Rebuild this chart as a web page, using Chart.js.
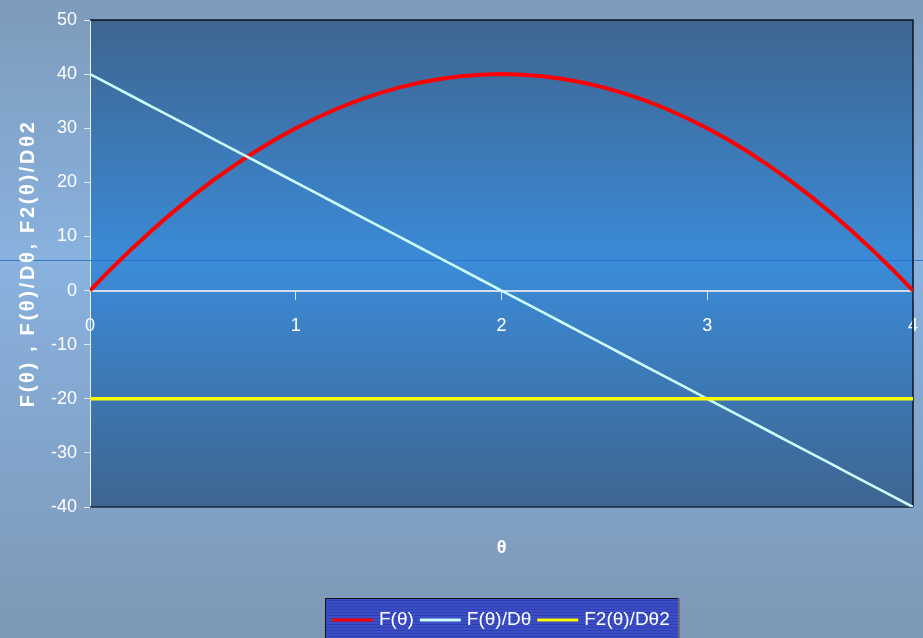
<!DOCTYPE html>
<html>
<head>
<meta charset="utf-8">
<script src="https://cdn.jsdelivr.net/npm/chart.js@4/dist/chart.umd.min.js"></script>
<style>
  html, body { margin: 0; padding: 0; background: #7f9dbd; }
  #wrap { width: 923px; height: 638px; position: relative; }
  canvas { display: block; }
</style>
</head>
<body>
<div id="wrap"><canvas id="c" width="923" height="638"></canvas></div>
<script>
// θ sample points
const thetaValues = [
  0.0, 0.1, 0.2, 0.3, 0.4, 0.5, 0.6, 0.7, 0.8, 0.9,
  1.0, 1.1, 1.2, 1.3, 1.4, 1.5, 1.6, 1.7, 1.8, 1.9,
  2.0, 2.1, 2.2, 2.3, 2.4, 2.5, 2.6, 2.7, 2.8, 2.9,
  3.0, 3.1, 3.2, 3.3, 3.4, 3.5, 3.6, 3.7, 3.8, 3.9, 4.0
];
// F(θ)
const fValues = [
  0, 3.9, 7.6, 11.1, 14.4, 17.5, 20.4, 23.1, 25.6, 27.9,
  30, 31.9, 33.6, 35.1, 36.4, 37.5, 38.4, 39.1, 39.6, 39.9,
  40, 39.9, 39.6, 39.1, 38.4, 37.5, 36.4, 35.1, 33.6, 31.9,
  30, 27.9, 25.6, 23.1, 20.4, 17.5, 14.4, 11.1, 7.6, 3.9, 0
];
// F(θ)/Dθ
const dfValues = [
  40, 38, 36, 34, 32, 30, 28, 26, 24, 22,
  20, 18, 16, 14, 12, 10, 8, 6, 4, 2,
  0, -2, -4, -6, -8, -10, -12, -14, -16, -18,
  -20, -22, -24, -26, -28, -30, -32, -34, -36, -38, -40
];
// F2(θ)/Dθ2
const d2fValues = [
  -20, -20, -20, -20, -20, -20, -20, -20, -20, -20,
  -20, -20, -20, -20, -20, -20, -20, -20, -20, -20,
  -20, -20, -20, -20, -20, -20, -20, -20, -20, -20,
  -20, -20, -20, -20, -20, -20, -20, -20, -20, -20, -20
];
const seriesLabels = ['F(θ)', 'F(θ)/Dθ', 'F2(θ)/Dθ2'];
const seriesColors = ['#ff0000', '#ccffff', '#ffff00'];
const seriesWidths = [4, 2.6, 3.5];
const xTitleText = 'θ';
const yTitleText = 'F(θ) , F(θ)/Dθ, F2(θ)/Dθ2';

const FONT = "'Liberation Sans', Arial, sans-serif";

function toPoints(values) {
  return thetaValues.map((t, i) => ({ x: t, y: values[i] }));
}

const seriesValues = [fValues, dfValues, d2fValues];
const datasets = seriesValues.map((vals, i) => ({
  label: seriesLabels[i],
  data: toPoints(vals),
  borderColor: seriesColors[i],
  backgroundColor: seriesColors[i],
  borderWidth: seriesWidths[i],
  pointRadius: 0,
  tension: 0,
  fill: false,
  order: 2 - i
}));

// Page and plot-area shading, frame, titles and legend
const backdrop = {
  id: 'backdrop',
  beforeDraw(chart) {
    const { ctx, width, height, chartArea: a } = chart;
    ctx.save();
    const g = ctx.createLinearGradient(0, 0, 0, height);
    g.addColorStop(0, '#7d9bbb');
    g.addColorStop(0.41, '#89b2df');
    g.addColorStop(0.8, '#80a0c4');
    g.addColorStop(1, '#7d98b4');
    ctx.fillStyle = g;
    ctx.fillRect(0, 0, width, height);

    const p = ctx.createLinearGradient(0, a.top, 0, a.bottom);
    p.addColorStop(0, '#3e6590');
    p.addColorStop(0.5, '#3b8bd8');
    p.addColorStop(1, '#3e6590');
    ctx.fillStyle = p;
    ctx.fillRect(a.left, a.top, a.right - a.left, a.bottom - a.top);
    ctx.restore();
  },
  beforeDatasetsDraw(chart) {
    const { ctx, width, chartArea: a } = chart;
    ctx.save();
    // thin band line across the page
    ctx.strokeStyle = 'rgba(40,110,205,0.85)';
    ctx.lineWidth = 1;
    ctx.beginPath();
    ctx.moveTo(0, 260.5);
    ctx.lineTo(width, 260.5);
    ctx.stroke();
    // frame of the plot area
    ctx.strokeStyle = '#0d1520';
    ctx.lineWidth = 1.5;
    ctx.beginPath();
    ctx.moveTo(a.left, a.top);
    ctx.lineTo(a.right, a.top);
    ctx.lineTo(a.right, a.bottom);
    ctx.stroke();
    ctx.strokeStyle = '#1d2b3c';
    ctx.beginPath();
    ctx.moveTo(a.left, a.bottom);
    ctx.lineTo(a.right, a.bottom);
    ctx.stroke();

    // y-axis title, letter-spaced to span 285px, rotated
    ctx.fillStyle = '#ffffff';
    ctx.font = 'bold 20px ' + FONT;
    ctx.letterSpacing = '0px';
    const natural = ctx.measureText(yTitleText).width;
    const chars = Array.from(yTitleText).length;
    const spacing = Math.max(0, (285 - natural) / (chars - 1));
    ctx.letterSpacing = spacing.toFixed(2) + 'px';
    ctx.textAlign = 'center';
    ctx.textBaseline = 'middle';
    ctx.translate(28, 262 + spacing / 2);
    ctx.rotate(-Math.PI / 2);
    ctx.fillText(yTitleText, 0, 0);
    ctx.restore();
  },
  afterDraw(chart) {
    const { ctx, chartArea: a } = chart;
    ctx.save();
    // x-axis title
    ctx.fillStyle = '#ffffff';
    ctx.font = 'bold 18px ' + FONT;
    ctx.textAlign = 'center';
    ctx.textBaseline = 'middle';
    ctx.fillText(xTitleText, (a.left + a.right) / 2, 548);

    // legend box
    const lx = 325, ly = 598, lw = 355, lh = 45;
    ctx.fillStyle = '#3c4ec6';
    ctx.fillRect(lx, ly, lw, lh);
    ctx.fillStyle = '#2f40b2';
    for (let y = ly + 2; y < ly + lh; y += 3) {
      ctx.fillRect(lx, y, lw, 1);
    }
    ctx.strokeStyle = '#111111';
    ctx.lineWidth = 1;
    ctx.beginPath();
    ctx.moveTo(lx + 0.5, ly + lh);
    ctx.lineTo(lx + 0.5, ly + 0.5);
    ctx.lineTo(lx + lw - 0.5, ly + 0.5);
    ctx.stroke();
    ctx.strokeStyle = '#6a6f7a';
    ctx.lineWidth = 2;
    ctx.beginPath();
    ctx.moveTo(lx + lw - 1, ly);
    ctx.lineTo(lx + lw - 1, ly + lh);
    ctx.stroke();

    ctx.font = '19px ' + FONT;
    ctx.textAlign = 'left';
    ctx.textBaseline = 'middle';
    let x = 332;
    const cy = 620;
    chart.data.datasets.forEach((ds) => {
      ctx.strokeStyle = ds.borderColor;
      ctx.lineWidth = 3;
      ctx.beginPath();
      ctx.moveTo(x, cy);
      ctx.lineTo(x + 41, cy);
      ctx.stroke();
      x += 47;
      ctx.fillStyle = '#ffffff';
      ctx.fillText(ds.label, x, cy);
      x += ctx.measureText(ds.label).width + 6;
    });
    ctx.restore();
  }
};

new Chart(document.getElementById('c'), {
  type: 'line',
  data: { datasets },
  plugins: [backdrop],
  options: {
    responsive: false,
    devicePixelRatio: 1,
    animation: false,
    layout: { padding: { left: 0, right: 10, top: 20, bottom: 131 } },
    plugins: {
      legend: { display: false },
      tooltip: { enabled: false }
    },
    scales: {
      x: {
        type: 'linear',
        position: { y: 0 },
        min: 0,
        max: 4,
        afterFit(scale) {
          scale.paddingLeft = 0;
          scale.paddingRight = 0;
        },
        ticks: {
          stepSize: 1,
          color: '#ffffff',
          font: { family: FONT, size: 18 },
          padding: 17,
          maxRotation: 0
        },
        grid: {
          drawOnChartArea: false,
          drawTicks: true,
          tickLength: 8,
          color: '#d8e4f2',
          lineWidth: 1
        },
        border: { display: true, color: '#d0def0', width: 2 }
      },
      y: {
        type: 'linear',
        position: 'left',
        min: -40,
        max: 50,
        afterFit(scale) { scale.width = 90; },
        ticks: {
          stepSize: 10,
          color: '#ffffff',
          font: { family: FONT, size: 18 },
          padding: 7
        },
        grid: {
          drawOnChartArea: false,
          drawTicks: true,
          tickLength: 6,
          color: '#dfe8f4'
        },
        border: { display: true, color: '#e6eef8', width: 1 }
      }
    }
  }
});
</script>
</body>
</html>
